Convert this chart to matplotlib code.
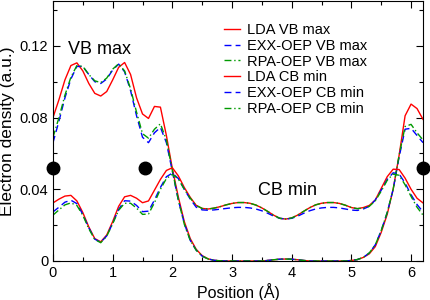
import numpy as np
import matplotlib
matplotlib.use("Agg")
import matplotlib.pyplot as plt
from matplotlib.ticker import MultipleLocator

plt.rcParams['font.family'] = ['Liberation Sans', 'DejaVu Sans']

x = [round(0.1 * i, 1) for i in range(63)]

lda_vb = [0.080, 0.090, 0.101, 0.109, 0.1105, 0.106, 0.099, 0.0935, 0.092, 0.0945,
          0.101, 0.108, 0.1107, 0.104, 0.091, 0.082, 0.0795, 0.0862, 0.0858, 0.070,
          0.0515, 0.0357, 0.022, 0.0125, 0.0065, 0.003, 0.0012, 0.0004, 0.0001, 0.0,
          0.0, 0.0, 0.0, 0.0, 0.0, 0.0, 0.0003, 0.0007, 0.001, 0.0011,
          0.001, 0.0007, 0.0003, 0.0, 0.0, 0.0, 0.0, 0.0, 0.0, 0.0,
          0.0003, 0.0008, 0.002, 0.004, 0.008, 0.016, 0.026, 0.040, 0.059, 0.081,
          0.0875, 0.085, 0.079]
exx_vb = [0.066, 0.078, 0.091, 0.1015, 0.1085, 0.1085, 0.104, 0.100, 0.099, 0.1015,
          0.1065, 0.1098, 0.1055, 0.095, 0.081, 0.069, 0.066, 0.0715, 0.0745, 0.066,
          0.050, 0.034, 0.021, 0.0115, 0.006, 0.0027, 0.0011, 0.0004, 0.0001, 0.0,
          0.0, 0.0, 0.0, 0.0, 0.0, 0.0, 0.0003, 0.0007, 0.001, 0.0011,
          0.001, 0.0007, 0.0003, 0.0, 0.0, 0.0, 0.0, 0.0, 0.0, 0.0,
          0.0003, 0.0008, 0.002, 0.0045, 0.009, 0.017, 0.027, 0.040, 0.058, 0.0735,
          0.074, 0.070, 0.066]
rpa_vb = [0.069, 0.080, 0.0925, 0.1025, 0.109, 0.1085, 0.104, 0.1005, 0.0995, 0.102,
          0.107, 0.110, 0.106, 0.096, 0.083, 0.071, 0.0685, 0.0735, 0.0765, 0.0675,
          0.0505, 0.034, 0.0205, 0.0115, 0.006, 0.0027, 0.0011, 0.0004, 0.0001, 0.0,
          0.0, 0.0, 0.0, 0.0, 0.0, 0.0, 0.0003, 0.0007, 0.001, 0.0011,
          0.001, 0.0007, 0.0003, 0.0, 0.0, 0.0, 0.0, 0.0, 0.0, 0.0,
          0.0003, 0.0008, 0.002, 0.0045, 0.009, 0.017, 0.027, 0.040, 0.059, 0.075,
          0.0762, 0.0715, 0.0675]
lda_cb = [0.0324, 0.0345, 0.0362, 0.0366, 0.0335, 0.027, 0.019, 0.0125, 0.0107, 0.0145,
          0.022, 0.0305, 0.0358, 0.0366, 0.035, 0.0325, 0.0335, 0.0395, 0.0455, 0.0505,
          0.052, 0.0475, 0.041, 0.0355, 0.031, 0.0293, 0.029, 0.0295, 0.0303, 0.0313,
          0.0321, 0.0326, 0.0326, 0.0322, 0.0312, 0.0296, 0.0276, 0.0255, 0.0238, 0.0234,
          0.024, 0.0256, 0.0277, 0.0297, 0.0313, 0.0322, 0.0326, 0.0326, 0.0321, 0.0311,
          0.0298, 0.0292, 0.0298, 0.031, 0.034, 0.0405, 0.047, 0.0512, 0.051, 0.0462,
          0.040, 0.035, 0.0324]
exx_cb = [0.0274, 0.030, 0.0328, 0.0339, 0.032, 0.026, 0.0185, 0.0122, 0.0104, 0.014,
          0.021, 0.0288, 0.0336, 0.0334, 0.031, 0.0275, 0.0278, 0.034, 0.041, 0.047,
          0.049, 0.046, 0.040, 0.0345, 0.030, 0.0285, 0.0283, 0.0285, 0.0289, 0.0293,
          0.0297, 0.0299, 0.0299, 0.0296, 0.029, 0.028, 0.0266, 0.025, 0.0238, 0.0234,
          0.0238, 0.025, 0.0266, 0.028, 0.029, 0.0296, 0.0299, 0.0299, 0.0296, 0.029,
          0.0284, 0.0282, 0.029, 0.0305, 0.034, 0.0395, 0.0455, 0.0492, 0.0485, 0.0435,
          0.037, 0.0315, 0.0274]
rpa_cb = [0.0256, 0.0285, 0.0313, 0.0324, 0.031, 0.0255, 0.018, 0.012, 0.0102, 0.0138,
          0.0208, 0.0283, 0.0322, 0.0322, 0.0295, 0.026, 0.0262, 0.0325, 0.040, 0.046,
          0.0483, 0.0458, 0.040, 0.035, 0.031, 0.0293, 0.029, 0.0295, 0.0303, 0.0313,
          0.0321, 0.0326, 0.0326, 0.0322, 0.0312, 0.0296, 0.0276, 0.0255, 0.0238, 0.0234,
          0.024, 0.0256, 0.0277, 0.0297, 0.0313, 0.0322, 0.0326, 0.0326, 0.0321, 0.0311,
          0.0298, 0.0292, 0.0295, 0.0305, 0.0335, 0.039, 0.045, 0.0485, 0.0478, 0.0425,
          0.036, 0.030, 0.0256]

atom_x = [0.0, 1.55, 6.2]
atom_y = [0.052, 0.052, 0.052]

labels = ["LDA VB max", "EXX-OEP VB max", "RPA-OEP VB max",
          "LDA CB min", "EXX-OEP CB min", "RPA-OEP CB min"]

fig = plt.figure(figsize=(4.31, 3.0), dpi=100)
ax = fig.add_axes([53/431, 1 - 261/300, 370/431, 260/300])

red = '#ff0000'
blue = '#0000ff'
green = '#009a00'
lw = 1.0
ax.plot(x, lda_vb, color=red, lw=lw, label=labels[0])
ax.plot(x, exx_vb, color=blue, lw=lw, dashes=(5, 3), label=labels[1])
ax.plot(x, rpa_vb, color=green, lw=lw, dashes=(5, 2, 1, 2), label=labels[2])
ax.plot(x, lda_cb, color=red, lw=lw, label=labels[3])
ax.plot(x, exx_cb, color=blue, lw=lw, dashes=(5, 3), label=labels[4])
ax.plot(x, rpa_cb, color=green, lw=lw, dashes=(5, 2, 1, 2), label=labels[5])

ax.plot(atom_x, atom_y, 'o', color='black', ms=9, clip_on=False, zorder=5)

ax.set_xlim(0, 6.2)
ax.set_ylim(0, 0.145)
ax.xaxis.set_major_locator(MultipleLocator(1))
ax.xaxis.set_minor_locator(MultipleLocator(0.5))
ax.yaxis.set_major_locator(MultipleLocator(0.04))
ax.yaxis.set_minor_locator(MultipleLocator(0.02))
ax.set_yticks([0, 0.04, 0.08, 0.12])
ax.set_yticklabels(["0", "0.04", "0.08", "0.12"])
ax.tick_params(which='both', direction='in', top=True, right=True, labelsize=10.5)
ax.tick_params(which='major', length=5, width=0.8)
ax.tick_params(which='minor', length=3, width=0.8)
for s in ax.spines.values():
    s.set_linewidth(0.8)

ax.set_xlabel("Position (Å)", fontsize=11.5, labelpad=2)
ax.set_ylabel("Electron density (a.u.)", fontsize=12.5, labelpad=3)

ax.text(0.25, 0.1156, "VB max", fontsize=13, va='baseline', ha='left')
ax.text(3.43, 0.0367, "CB min", fontsize=13, va='baseline', ha='left')

ax.legend(loc='upper left', bbox_to_anchor=(0.462, 0.915), frameon=False,
          fontsize=10.5, handlelength=1.1, handletextpad=0.5, labelspacing=0.12,
          borderpad=0, borderaxespad=0)

fig.savefig("out.png", dpi=100)
